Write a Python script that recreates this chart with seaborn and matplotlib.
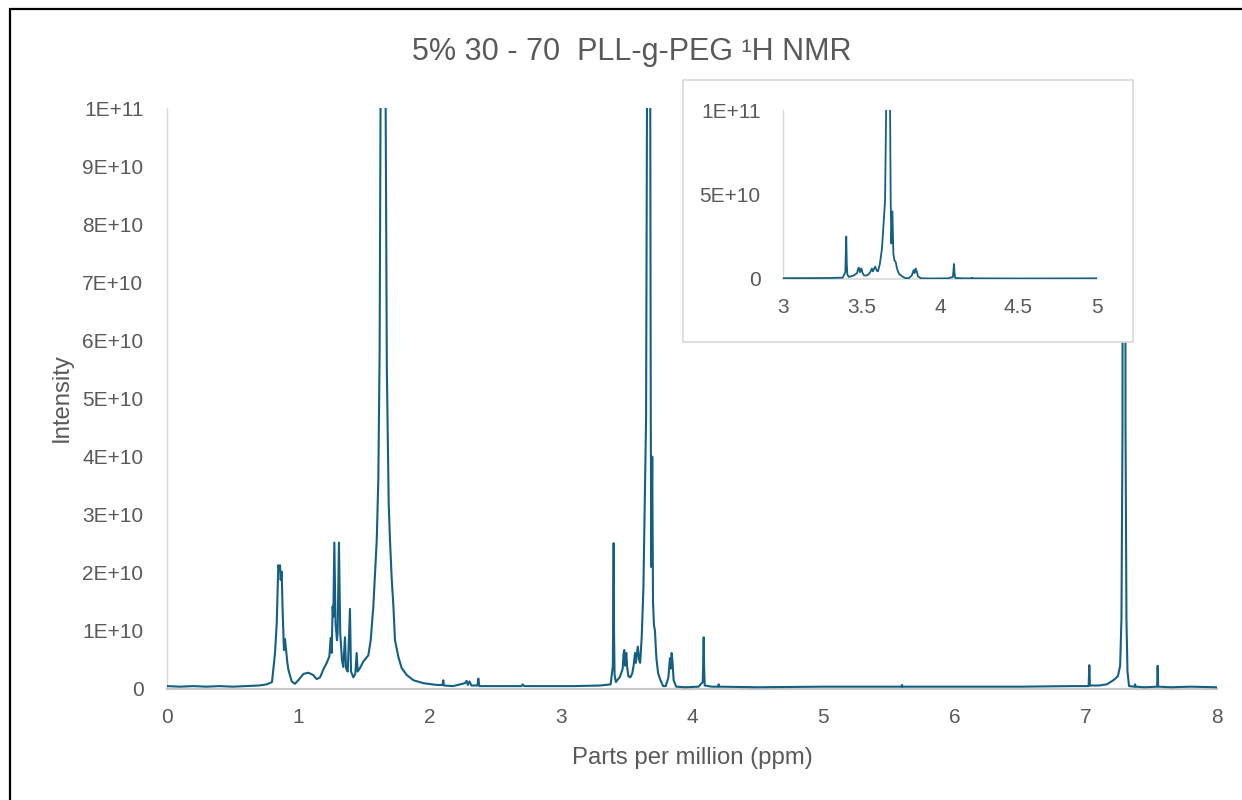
import numpy as np
import pandas as pd
import matplotlib
matplotlib.use("Agg")
import matplotlib.pyplot as plt
import seaborn as sns
from matplotlib.patches import Rectangle
from matplotlib.ticker import FixedLocator, FuncFormatter

# ---- data (ppm, intensity in units of 1E+10) ----
ppm = [
    0.00, 0.10, 0.20, 0.30, 0.40, 0.50, 0.60, 0.70, 0.76, 0.80,
    0.823, 0.836, 0.848, 0.856, 0.861, 0.866, 0.874, 0.880, 0.891, 0.899,
    0.907, 0.917, 0.925, 0.950, 0.975, 1.000, 1.040, 1.077, 1.115, 1.140,
    1.166, 1.190, 1.217, 1.237, 1.247, 1.255, 1.262, 1.267, 1.275, 1.284,
    1.295, 1.300, 1.310, 1.320, 1.333, 1.343, 1.356, 1.364, 1.377, 1.394,
    1.402, 1.420, 1.435, 1.445, 1.453, 1.470, 1.495, 1.534, 1.552, 1.572,
    1.585, 1.598, 1.610, 1.620, 1.627, 1.635, 1.644, 1.653, 1.666, 1.675,
    1.689, 1.699, 1.712, 1.725, 1.737, 1.762, 1.788, 1.827, 1.878, 1.954,
    2.055, 2.100, 2.105, 2.110, 2.180, 2.270, 2.283, 2.292, 2.305, 2.320,
    2.365, 2.372, 2.380, 2.500, 2.700, 2.710, 2.720, 2.900, 3.100, 3.300,
    3.380, 3.397, 3.401, 3.403, 3.406, 3.410, 3.420, 3.451, 3.472, 3.478,
    3.484, 3.490, 3.496, 3.500, 3.505, 3.515, 3.530, 3.545, 3.555, 3.566,
    3.572, 3.580, 3.587, 3.597, 3.605, 3.617, 3.630, 3.642, 3.650, 3.657,
    3.663, 3.669, 3.676, 3.682, 3.686, 3.690, 3.697, 3.703, 3.710, 3.718,
    3.725, 3.730, 3.742, 3.760, 3.780, 3.800, 3.820, 3.832, 3.838, 3.845,
    3.852, 3.860, 3.880, 3.950, 4.050, 4.082, 4.086, 4.089, 4.092, 4.097,
    4.150, 4.199, 4.203, 4.207, 4.500, 5.000, 5.500, 5.597, 5.600, 5.603,
    6.000, 6.500, 6.900, 7.022, 7.027, 7.032, 7.100, 7.160, 7.210, 7.245,
    7.262, 7.272, 7.280, 7.287, 7.291, 7.296, 7.303, 7.310, 7.318, 7.330,
    7.372, 7.376, 7.380, 7.450, 7.544, 7.548, 7.552, 7.650, 7.800, 8.000,
]
intensity_e10 = [
    0.05, 0.04, 0.05, 0.04, 0.05, 0.04, 0.05, 0.06, 0.08, 0.12,
    0.62, 1.13, 2.13, 2.05, 2.13, 1.88, 2.02, 1.42, 0.67, 0.86,
    0.67, 0.45, 0.33, 0.13, 0.09, 0.15, 0.26, 0.28, 0.24, 0.17,
    0.20, 0.33, 0.45, 0.56, 0.88, 0.62, 1.42, 1.24, 2.52, 1.13,
    0.84, 0.96, 2.52, 0.96, 0.50, 0.38, 0.89, 0.36, 0.30, 1.38,
    0.30, 0.20, 0.27, 0.62, 0.30, 0.36, 0.47, 0.58, 0.84, 1.42,
    2.00, 2.56, 3.60, 5.80, 10.0, 18.0, 27.0, 18.0, 10.0, 5.50,
    3.20, 2.56, 1.90, 1.42, 0.84, 0.56, 0.36, 0.24, 0.15, 0.10,
    0.07, 0.07, 0.15, 0.06, 0.05, 0.10, 0.14, 0.07, 0.13, 0.06,
    0.06, 0.18, 0.05, 0.05, 0.05, 0.08, 0.05, 0.05, 0.05, 0.06,
    0.08, 0.40, 2.00, 2.51, 1.00, 0.25, 0.12, 0.21, 0.35, 0.60,
    0.67, 0.40, 0.58, 0.62, 0.40, 0.22, 0.20, 0.27, 0.40, 0.62,
    0.45, 0.60, 0.73, 0.50, 0.45, 0.90, 1.76, 3.48, 4.63, 10.0,
    40.0, 60.0, 40.0, 10.0, 4.60, 2.10, 4.00, 1.50, 1.10, 1.00,
    0.67, 0.50, 0.27, 0.15, 0.05, 0.05, 0.20, 0.53, 0.35, 0.62,
    0.45, 0.15, 0.04, 0.03, 0.04, 0.12, 0.50, 0.89, 0.40, 0.06,
    0.04, 0.04, 0.08, 0.04, 0.03, 0.04, 0.04, 0.04, 0.07, 0.04,
    0.04, 0.04, 0.05, 0.05, 0.41, 0.06, 0.06, 0.08, 0.15, 0.22,
    0.40, 1.20, 4.50, 30.0, 60.0, 30.0, 4.50, 1.20, 0.30, 0.05,
    0.04, 0.08, 0.04, 0.03, 0.04, 0.40, 0.04, 0.03, 0.04, 0.03,
]

main_xticks = [0, 1, 2, 3, 4, 5, 6, 7, 8]
main_yticks = [0, 1e10, 2e10, 3e10, 4e10, 5e10, 6e10, 7e10, 8e10, 9e10, 1e11]
inset_xticks = [3, 3.5, 4, 4.5, 5]
inset_yticks = [0, 5e10, 1e11]

title_text = "5% 30 - 70  PLL-g-PEG \u00b9H NMR"
xlabel_text = "Parts per million (ppm)"
ylabel_text = "Intensity"

# ---- styling ----
LINE = "#156082"
TXT = "#595959"
GRID = "#D9D9D9"
W, H = 1242, 800

sns.set_theme(style="white")
plt.rcParams["font.family"] = ["Liberation Sans", "DejaVu Sans"]

df = pd.DataFrame({"ppm": ppm, "intensity": np.array(intensity_e10) * 1e10})


def sci_fmt(v, _pos=None):
    if v == 0:
        return "0"
    e = int(np.floor(np.log10(abs(v)) + 1e-9))
    m = v / 10 ** e
    return f"{m:g}E+{e:02d}"


fig = plt.figure(figsize=(W / 100, H / 100), dpi=100)
fig.patch.set_facecolor("white")

# main axes
ax = fig.add_axes([167 / W, (H - 689) / H, (1217 - 167) / W, (689 - 108) / H])
sns.lineplot(data=df, x="ppm", y="intensity", estimator=None, ax=ax,
             color=LINE, linewidth=1.5, zorder=3)
ax.set_xlim(0, 8)
ax.set_ylim(0, 1e11)
ax.xaxis.set_major_locator(FixedLocator(main_xticks))
ax.yaxis.set_major_locator(FixedLocator(main_yticks))
ax.xaxis.set_major_formatter(FuncFormatter(lambda v, p: f"{v:g}"))
ax.yaxis.set_major_formatter(FuncFormatter(sci_fmt))
ax.tick_params(axis="both", length=0, labelsize=15, colors=TXT)
ax.tick_params(axis="y", pad=17)
ax.tick_params(axis="x", pad=14)
for s in ["top", "right"]:
    ax.spines[s].set_visible(False)
ax.spines["left"].set_color(GRID)
ax.spines["bottom"].set_color("#C8C8C8")
ax.spines["left"].set_linewidth(1.0)
ax.spines["bottom"].set_linewidth(1.5)
ax.set_xlabel(xlabel_text, fontsize=17.2, color=TXT)
ax.set_ylabel(ylabel_text, fontsize=17.2, color=TXT)
ax.xaxis.label.set_va("center")
ax.yaxis.label.set_va("center")
ax.xaxis.set_label_coords((692 - 167) / 1050, (689 - 758) / 581)
ax.yaxis.set_label_coords((62 - 167) / 1050, (689 - 398) / 581)

fig.suptitle(title_text, x=632 / W, y=1 - 52 / H, va="center", ha="center",
             fontsize=22, color=TXT)

# inset background box
box = Rectangle((683 / W, 1 - 342 / H), (1133 - 683) / W, (342 - 80) / H,
                transform=fig.transFigure, facecolor="white", edgecolor=GRID,
                linewidth=1.2, zorder=2)
fig.patches.append(box)

ins = fig.add_axes([783 / W, (H - 279) / H, (1097 - 783) / W, (279 - 110) / H],
                   zorder=3)
ins.set_facecolor("none")
sns.lineplot(data=df, x="ppm", y="intensity", estimator=None, ax=ins,
             color=LINE, linewidth=1.3, zorder=3)
ins.set_xlim(3, 5)
ins.set_ylim(0, 1e11)
ins.xaxis.set_major_locator(FixedLocator(inset_xticks))
ins.yaxis.set_major_locator(FixedLocator(inset_yticks))
ins.xaxis.set_major_formatter(FuncFormatter(lambda v, p: f"{v:g}"))
ins.yaxis.set_major_formatter(FuncFormatter(sci_fmt))
ins.tick_params(axis="both", length=0, labelsize=15, colors=TXT)
ins.tick_params(axis="y", pad=16)
ins.tick_params(axis="x", pad=14)
ins.set_xlabel("")
ins.set_ylabel("")
for s in ["top", "right"]:
    ins.spines[s].set_visible(False)
ins.spines["left"].set_color(GRID)
ins.spines["bottom"].set_color(GRID)
ins.spines["left"].set_linewidth(1.0)
ins.spines["bottom"].set_linewidth(1.2)

# outer black frame (only left and top edges fall inside the picture)
frame = Rectangle((10 / W, -0.1), 1.2, 1 - 9 / H + 0.1, transform=fig.transFigure,
                  fill=False, edgecolor="black", linewidth=1.6, zorder=10)
fig.patches.append(frame)

fig.savefig("out.png", dpi=100, facecolor="white")
